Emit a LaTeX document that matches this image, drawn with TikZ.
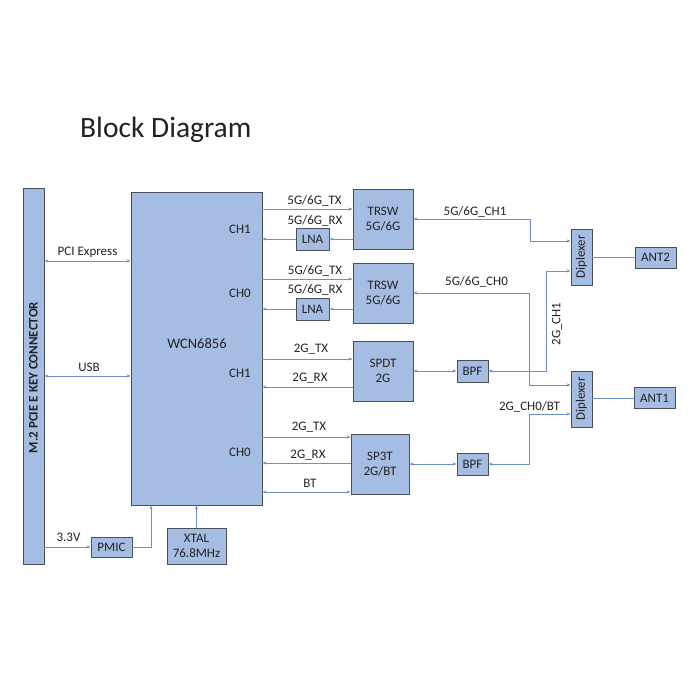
\documentclass[tikz,border=0pt]{standalone}
\usepackage{fontspec}
\setmainfont{Carlito}
\usetikzlibrary{arrows.meta}
\begin{document}
\definecolor{boxfill}{HTML}{A6BDE3}
\definecolor{boxline}{HTML}{4A4F5C}
\definecolor{wire}{HTML}{6C8FCB}
\definecolor{txt}{HTML}{222222}
\tikzset{
  blk/.style={draw=boxline, fill=boxfill, line width=0.9pt, inner sep=0pt, text=txt, font=\fontsize{13}{15}\selectfont, align=center},
  lbl/.style={text=txt, font=\fontsize{13}{15}\selectfont, inner sep=1pt},
  w/.style={draw=wire, line width=0.7pt},
  ar/.style={w, -{Stealth[length=4pt,width=3pt]}},
  dar/.style={w, {Stealth[length=4pt,width=3pt]}-{Stealth[length=4pt,width=3pt]}},
}
\begin{tikzpicture}[x=1pt,y=-1pt]
\useasboundingbox (0,0) rectangle (700,700);
\node[anchor=base west, text=txt, font=\fontsize{29.5}{34}\selectfont, inner sep=0pt] (title) at (80,138) {Block Diagram};

% connector
\node[blk, minimum width=21pt, minimum height=376pt] (conn) at (33.5,376) {};
\node[rotate=90, text=txt, font=\bfseries\fontsize{13}{15}\selectfont] (connt) at (33.5,377.5) {M.2 PCIE E KEY CONNECTOR};

% main chip
\node[blk, minimum width=131pt, minimum height=313pt] (wcn) at (196.5,348.5) {};
\node[lbl, font=\fontsize{14.5}{16}\selectfont] (wcnt) at (197,344) {WCN6856};
\node[lbl] (c1a) at (240,229) {CH1};
\node[lbl] (c0a) at (240,293) {CH0};
\node[lbl] (c1b) at (240,373) {CH1};
\node[lbl] (c0b) at (240,452) {CH0};

% TRSW / LNA
\node[blk, minimum width=60pt, minimum height=60pt] (trsw1) at (383,219) {TRSW\\5G/6G};
\node[blk, minimum width=60pt, minimum height=60pt] (trsw2) at (383,293) {TRSW\\5G/6G};
\node[blk, minimum width=33pt, minimum height=22pt] (lna1) at (312.5,239) {LNA};
\node[blk, minimum width=33pt, minimum height=22pt] (lna2) at (312.5,309) {LNA};
\node[blk, minimum width=60pt, minimum height=60pt] (spdt) at (383,371) {SPDT\\2G};
\node[blk, minimum width=58pt, minimum height=60pt] (sp3t) at (380,464) {SP3T\\2G/BT};
\node[blk, minimum width=31pt, minimum height=22pt] (bpf1) at (472.5,371) {BPF};
\node[blk, minimum width=31pt, minimum height=22pt] (bpf2) at (472.5,464) {BPF};
\node[blk, minimum width=21pt, minimum height=56pt] (dip1) at (581.5,257) {};
\node[rotate=90, text=txt, font=\fontsize{13}{15}\selectfont] (dip1t) at (581.5,257) {Diplexer};
\node[blk, minimum width=21pt, minimum height=56pt] (dip2) at (581.5,399) {};
\node[rotate=90, text=txt, font=\fontsize{13}{15}\selectfont] (dip2t) at (581.5,399) {Diplexer};
\node[blk, minimum width=41pt, minimum height=21pt] (ant2) at (655.5,257.5) {ANT2};
\node[blk, minimum width=41pt, minimum height=21pt] (ant1) at (654.5,398) {ANT1};
\node[blk, minimum width=41pt, minimum height=20pt] (pmic) at (111.5,547) {PMIC};
\node[blk, minimum width=59pt, minimum height=36pt] (xtal) at (196.5,546) {XTAL\\76.8MHz};

% host interface
\draw[dar] (conn.east |- 0,261) -- (wcn.west |- 0,261);
\node[lbl] (pcie) at (87.5,252) {PCI Express};
\draw[dar] (conn.east |- 0,376) -- (wcn.west |- 0,376);
\node[lbl] (usb) at (89,367) {USB};
\draw[ar] (conn.east |- 0,547) -- (pmic.west);
\node[lbl] (v33) at (68.5,537) {3.3V};
\draw[ar] (pmic.east) -| (wcn.south -| 151,0);
\draw[ar] (xtal.north) -- (wcn.south -| xtal.north);

% 5G/6G chain 1
\draw[ar] (wcn.east |- 0,209) -- (trsw1.west |- 0,209);
\node[lbl] (tx1) at (314.5,201) {5G/6G\_TX};
\draw[ar] (trsw1.west |- lna1) -- (lna1.east);
\draw[ar] (lna1.west) -- (wcn.east |- lna1);
\node[lbl] (rx1) at (315,221) {5G/6G\_RX};
% 5G/6G chain 0
\draw[ar] (wcn.east |- 0,279) -- (trsw2.west |- 0,279);
\node[lbl] (tx0) at (315,271) {5G/6G\_TX};
\draw[ar] (trsw2.west |- lna2) -- (lna2.east);
\draw[ar] (lna2.west) -- (wcn.east |- lna2);
\node[lbl] (rx0) at (315,290) {5G/6G\_RX};

% 2G CH1
\draw[ar] (wcn.east |- 0,359) -- (spdt.west |- 0,359);
\node[lbl] (tx2a) at (311,349) {2G\_TX};
\draw[ar] (spdt.west |- 0,387) -- (wcn.east |- 0,387);
\node[lbl] (rx2a) at (310,378) {2G\_RX};
% 2G CH0 / BT
\draw[ar] (wcn.east |- 0,437) -- (sp3t.west |- 0,437);
\node[lbl] (tx2b) at (309,427) {2G\_TX};
\draw[ar] (sp3t.west |- 0,463) -- (wcn.east |- 0,463);
\node[lbl] (rx2b) at (308,455) {2G\_RX};
\draw[dar] (wcn.east |- 0,492) -- (sp3t.west |- 0,492);
\node[lbl] (bt) at (310,483) {BT};

\draw[dar] (spdt.east) -- (bpf1.west);
\draw[dar] (sp3t.east |- bpf2) -- (bpf2.west);

% antenna side
\coordinate (k1) at (530,219);
\coordinate (k2) at (530,241);
\draw[dar] (trsw1.east |- k1) -- (k1) -- (k2) -- (dip1.west |- k2);
\node[lbl] (l56c1) at (475,212) {5G/6G\_CH1};
\coordinate (k3) at (529,293);
\coordinate (k4) at (529,385);
\draw[dar] (trsw2.east |- k3) -- (k3) -- (k4) -- (dip2.west |- k4);
\node[lbl] (l56c0) at (476.5,282) {5G/6G\_CH0};
\coordinate (k5) at (546,371);
\coordinate (k6) at (546,271);
\draw[dar] (bpf1.east) -- (k5) -- (k6) -- (dip1.west |- k6);
\node[lbl, rotate=90] (l2c1) at (557,324) {2G\_CH1};
\coordinate (k7) at (529,464);
\coordinate (k8) at (529,414);
\draw[dar] (bpf2.east) -- (k7) -- (k8) -- (dip2.west |- k8);
\node[lbl] (l2c0) at (529.5,407) {2G\_CH0/BT};
\draw[w] (dip1.east |- ant2) -- (ant2.west);
\draw[w] (dip2.east |- ant1) -- (ant1.west);
\end{tikzpicture}
\end{document}
